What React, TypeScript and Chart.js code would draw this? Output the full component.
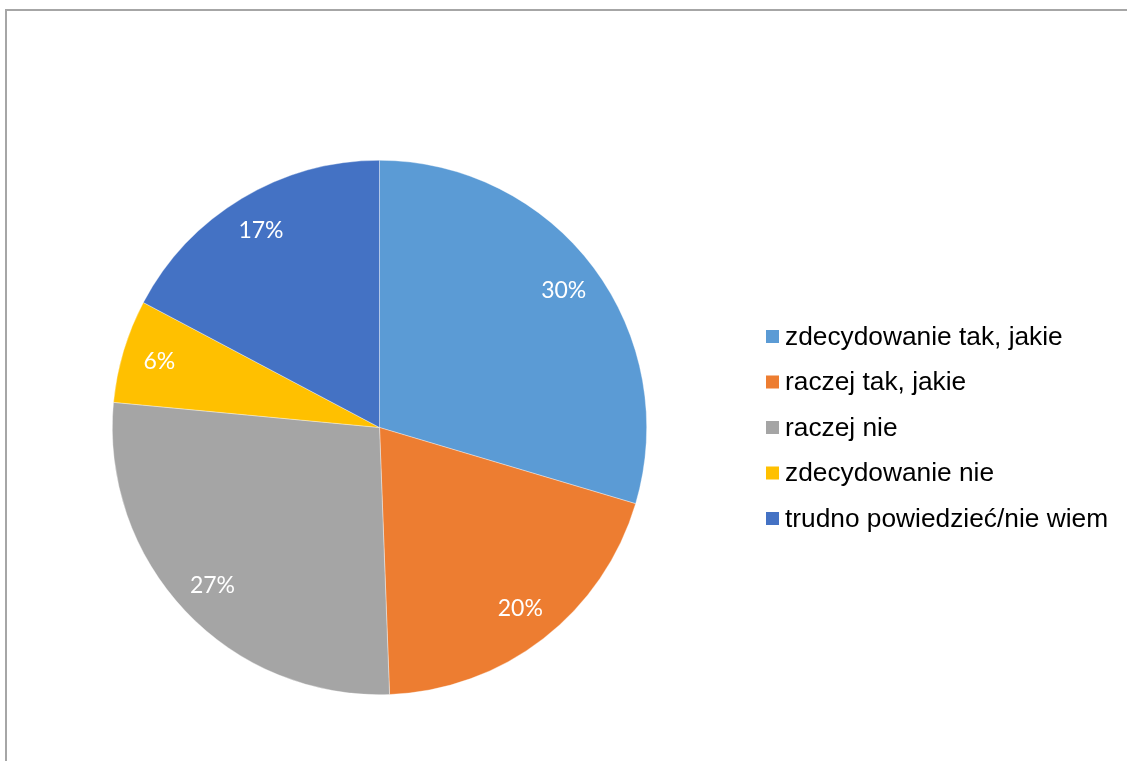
import React, { useEffect, useRef } from "react";
import { Chart, registerables } from "chart.js";

Chart.register(...registerables);

const categories = [
  "zdecydowanie tak, jakie",
  "raczej tak, jakie",
  "raczej nie",
  "zdecydowanie nie",
  "trudno powiedzieć/nie wiem",
];
const values = [29.6, 19.8, 27.1, 6.25, 17.25];
const percentLabels = ["30%", "20%", "27%", "6%", "17%"];
const colors = ["#5B9BD5", "#ED7D31", "#A5A5A5", "#FFC000", "#4472C4"];

const W = 1127;
const H = 761;

const sliceLabelPlugin = {
  id: "sliceLabels",
  afterDatasetsDraw(chart: any) {
    const ctx = chart.ctx;
    const meta = chart.getDatasetMeta(0);
    ctx.save();
    ctx.fillStyle = "#ffffff";
    ctx.font = "23px Lato, 'Open Sans', sans-serif";
    ctx.textAlign = "center";
    ctx.textBaseline = "middle";
    meta.data.forEach((arc: any, i: number) => {
      const p = arc.getProps(["x", "y", "startAngle", "endAngle", "outerRadius"], true);
      const mid = (p.startAngle + p.endAngle) / 2;
      const r = p.outerRadius * 0.86;
      ctx.fillText(percentLabels[i], p.x + Math.cos(mid) * r, p.y + Math.sin(mid) * r);
    });
    ctx.restore();
  },
};

const legendPlugin = {
  id: "customLegend",
  afterDraw(chart: any) {
    const ctx = chart.ctx;
    const labels = chart.data.labels as string[];
    const bg = chart.data.datasets[0].backgroundColor as string[];
    const x0 = 766;
    const y0 = 336.5;
    const step = 45.5;
    const box = 13;
    ctx.save();
    ctx.font = "26.3px 'Liberation Sans', Arial, sans-serif";
    ctx.textBaseline = "middle";
    ctx.textAlign = "left";
    labels.forEach((lab, i) => {
      const y = y0 + i * step;
      ctx.fillStyle = bg[i];
      ctx.fillRect(x0, y - box / 2, box, box);
      ctx.fillStyle = "#000000";
      ctx.fillText(lab, x0 + 19, y + 1);
    });
    ctx.restore();
  },
};

export default function App() {
  const ref = useRef<HTMLCanvasElement | null>(null);

  useEffect(() => {
    if (!ref.current) return;
    const chart = new Chart(ref.current, {
      type: "pie",
      data: {
        labels: categories,
        datasets: [
          {
            data: values,
            backgroundColor: colors,
            borderColor: "rgba(255,255,255,0.6)",
            borderWidth: 0.6,
          },
        ],
      },
      options: {
        responsive: false,
        animation: false,
        layout: { padding: { left: 112, right: 480, top: 160, bottom: 66 } },
        plugins: {
          legend: { display: false },
          tooltip: { enabled: false },
        },
      },
      plugins: [sliceLabelPlugin, legendPlugin],
    });
    return () => chart.destroy();
  }, []);

  return (
    <div
      style={{
        position: "fixed",
        left: 0,
        top: 0,
        width: W,
        height: H,
        overflow: "hidden",
        background: "#ffffff",
      }}
    >
      <div
        style={{
          position: "absolute",
          left: 5,
          top: 9,
          width: 1200,
          height: 800,
          borderLeft: "2px solid #a6a6a6",
          borderTop: "2px solid #a6a6a6",
          boxSizing: "border-box",
        }}
      />
      <canvas
        ref={ref}
        width={W}
        height={H}
        style={{ position: "absolute", left: 0, top: 0, width: W, height: H }}
      />
    </div>
  );
}
